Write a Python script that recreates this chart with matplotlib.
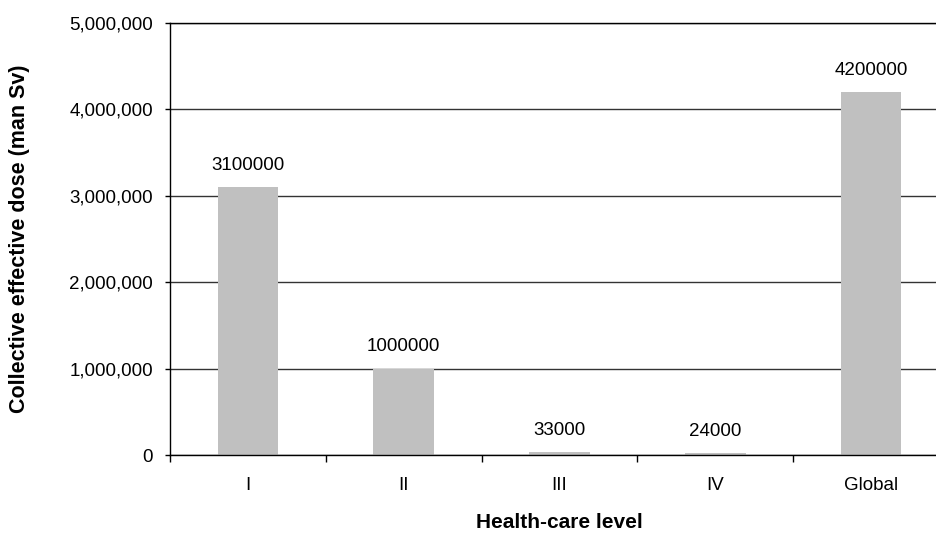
import matplotlib
matplotlib.use("Agg")
import matplotlib.pyplot as plt
from matplotlib.ticker import FuncFormatter, FixedLocator
import numpy as np

categories = ["I", "II", "III", "IV", "Global"]
values = [3100000, 1000000, 33000, 24000, 4200000]
y_ticks = [0, 1000000, 2000000, 3000000, 4000000, 5000000]

plt.rcParams['font.family'] = ['Liberation Sans', 'DejaVu Sans']

fig = plt.figure(figsize=(9.36, 5.33), dpi=100)
W, H = 936, 533
left, right, top, bottom = 170, 949, 23, 455
ax = fig.add_axes([left / W, (H - bottom) / H, (right - left) / W, (bottom - top) / H])

x = np.arange(len(categories))
ax.bar(x, values, width=0.39, color='#C0C0C0', edgecolor='none', zorder=2)

for xi, v in zip(x, values):
    ax.annotate(f"{v}", (xi, v), xytext=(0, 9.5), textcoords='offset points',
                ha='center', va='bottom', fontsize=13.5, color='black')

ax.set_xlim(-0.5, len(categories) - 0.5)
ax.set_ylim(0, 5000000)
ax.set_yticks(y_ticks)
ax.yaxis.set_major_formatter(FuncFormatter(lambda v, p: f"{int(v):,}"))
ax.grid(axis='y', color='#333333', linewidth=1.0, zorder=0)
ax.set_axisbelow(True)

ax.set_xticks(x)
ax.set_xticklabels(categories)
ax.xaxis.set_minor_locator(FixedLocator(np.arange(-0.5, len(categories), 1.0)))
ax.tick_params(axis='x', which='major', length=0, pad=16, labelsize=13.5)
ax.tick_params(axis='x', which='minor', length=5, width=1, direction='out', color='black')
ax.tick_params(axis='y', length=3.6, width=1, direction='out', pad=8.6, labelsize=13.5)

for s in ['left', 'bottom', 'top']:
    ax.spines[s].set_color('black')
    ax.spines[s].set_linewidth(1.0)
ax.spines['right'].set_visible(False)

ax.set_xlabel("Health-care level", fontsize=15, fontweight='bold')
ax.xaxis.set_label_coords(0.5, -(523 - 455) / (bottom - top), transform=ax.transAxes)
ax.xaxis.label.set_va('center')
ax.set_ylabel("Collective effective dose (man Sv)", fontsize=15.5, fontweight='bold')
ax.yaxis.set_label_coords(-(170 - 20) / (right - left), 0.5)
ax.yaxis.label.set_va('center')

fig.savefig("out.png", dpi=100)
